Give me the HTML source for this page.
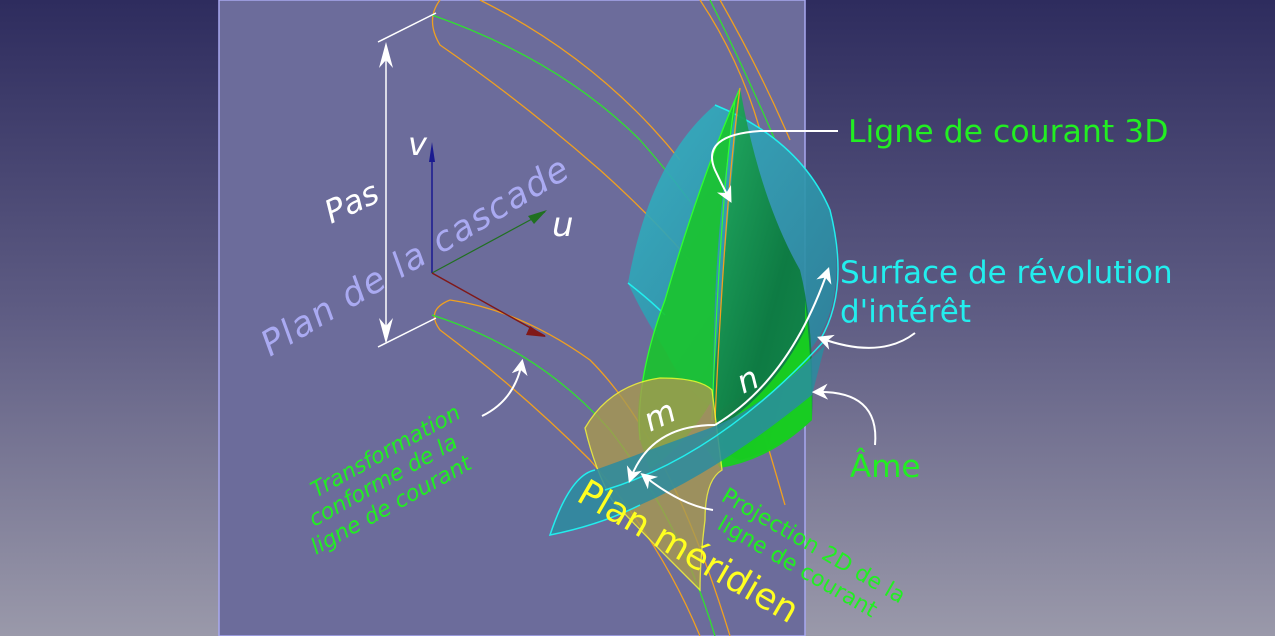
<!DOCTYPE html>
<html><head><meta charset="utf-8"><style>
html,body{margin:0;padding:0;width:1275px;height:636px;overflow:hidden}
svg{display:block}
text{font-family:"DejaVu Sans","Liberation Sans",sans-serif}
</style></head><body>
<svg width="1275" height="636" viewBox="0 0 1275 636" xmlns="http://www.w3.org/2000/svg">
<defs>
<linearGradient id="bg" x1="0" y1="0" x2="0" y2="1">
<stop offset="0" stop-color="#2e2c5e"/><stop offset="0.5" stop-color="#5f5d84"/><stop offset="1" stop-color="#9a99aa"/>
</linearGradient>
<linearGradient id="cy" x1="0" y1="0" x2="1" y2="1">
<stop offset="0" stop-color="#33b4c4"/><stop offset="1" stop-color="#2a7e98"/>
</linearGradient>
<linearGradient id="gr" x1="0" y1="0" x2="1" y2="1">
<stop offset="0" stop-color="#22b060"/><stop offset="0.6" stop-color="#0c7a3e"/><stop offset="1" stop-color="#138a4a"/>
</linearGradient>
<marker id="ah" viewBox="0 0 10 10" refX="8" refY="5" markerWidth="8" markerHeight="8" orient="auto-start-reverse"><path d="M0,0 L10,5 L0,10 L3,5z" fill="#fff"/></marker>
</defs>
<rect width="1275" height="636" fill="url(#bg)"/>
<rect x="219" y="0" width="586" height="636" fill="#6c6c9b" stroke="#a8a8f0" stroke-width="1.5"/>

<g fill="none" stroke-width="1.3">
<path d="M440,0 Q425,20 440,45 Q520,100 600,170 Q700,260 740,330" stroke="#f0a020"/>
<path d="M432,15 Q560,60 640,140 Q720,230 760,320" stroke="#30e030"/>
<path d="M480,0 Q600,60 680,160" stroke="#f0a020"/>
<path d="M450,300 Q425,310 440,330 Q520,390 590,460 Q660,540 700,636" stroke="#f0a020"/>
<path d="M432,315 Q540,350 610,430 Q680,520 715,636" stroke="#30e030"/>
<path d="M450,300 Q520,310 590,360 Q670,440 730,636" stroke="#f0a020"/>
<path d="M700,0 Q740,60 760,130" stroke="#f0a020"/>
<path d="M710,0 Q745,70 775,140" stroke="#30e030"/>
<path d="M720,0 Q760,70 790,140" stroke="#f0a020"/>
<path d="M760,420 Q775,470 785,505" stroke="#f0a020"/>
</g>

<path d="M715,105 Q800,140 830,210 Q850,300 810,350 L720,410 Q690,400 665,350 Q640,310 628,283 Q650,160 715,105z" fill="url(#cy)" opacity="0.92"/>
<path d="M715,105 Q800,140 830,210 Q850,290 820,340" fill="none" stroke="#22eeee" stroke-width="1.5"/>
<path d="M628,283 Q650,300 665,315" fill="none" stroke="#22eeee" stroke-width="1.5"/>
<path d="M740,88 Q720,180 715,300 L712,400 Q690,440 650,470 L640,440 Q630,400 665,300 Q700,180 740,88z" fill="#19c42c" opacity="0.9"/>
<path d="M740,88 Q760,200 800,270 Q815,330 812,420 Q780,450 740,460 Q715,455 712,400 Q725,250 740,88z" fill="url(#gr)" opacity="0.95"/>
<path d="M805,300 Q812,360 812,420 Q770,460 720,468 L700,440 Q770,400 805,330z" fill="#18d020" opacity="0.95"/>
<path d="M740,88 Q700,180 665,300 Q635,380 640,440" fill="none" stroke="#30ff30" stroke-width="1.3"/>
<path d="M740,88 Q725,200 715,420" fill="none" stroke="#f0a020" stroke-width="1.3"/>
<path d="M735,100 Q720,200 712,420" fill="none" stroke="#30ff30" stroke-width="1.2"/>
<path d="M585,428 Q610,385 660,378 Q700,378 712,390 L722,470 Q705,480 705,520 Q700,560 700,590 L670,560 Q630,520 612,500 Q595,470 585,428z" fill="#a89a50" opacity="0.8" stroke="#ffff30" stroke-width="1.3"/>
<path d="M595,470 Q570,475 550,535 Q600,525 640,505 Q720,470 812,395 L825,345 Q760,410 710,428 Q650,450 595,470z" fill="#2a8ca0" opacity="0.85"/>
<path d="M595,470 Q570,475 550,535 Q600,525 640,505" fill="none" stroke="#22eeee" stroke-width="1.5"/>
<path d="M605,490 Q720,455 825,340" fill="none" stroke="#22eeee" stroke-width="1.5"/>

<line x1="432" y1="273" x2="432" y2="150" stroke="#1a1a90" stroke-width="1.5"/>
<path d="M429,162 L432,142 L435,162z" fill="#1a1a90"/>
<line x1="432" y1="273" x2="545" y2="212" stroke="#207020" stroke-width="1.2"/>
<path d="M528,216 L547,210 L534,224z" fill="#207020"/>
<line x1="432" y1="273" x2="545" y2="336" stroke="#801818" stroke-width="1.5"/>
<path d="M530,326 L546,337 L526,335z" fill="#801818"/>

<g stroke="#fff" stroke-width="1.5" fill="none">
<line x1="378" y1="42" x2="436" y2="13"/>
<line x1="378" y1="347" x2="436" y2="318"/>
<line x1="386" y1="47" x2="386" y2="340"/>
</g>
<path d="M379,68 L386,42 L393,68 L386,60z" fill="#fff"/>
<path d="M379,318 L386,344 L393,318 L386,326z" fill="#fff"/>

<g fill="none" stroke="#fff" stroke-width="2" marker-end="url(#ah)">
<path d="M838,131 L760,131 Q700,135 715,170 Q722,185 730,200"/>
<path d="M915,333 Q880,360 820,338"/>
<path d="M875,445 Q880,390 815,392"/>
<path d="M713,510 Q680,505 643,475"/>
<path d="M482,416 Q515,400 522,362"/>
<path d="M715,425 Q790,380 828,270"/>
<path d="M715,425 Q650,425 630,480"/>
</g>

<text x="848" y="142" font-size="31.5" fill="#22ee22">Ligne de courant 3D</text>
<text x="840" y="283" font-size="31" fill="#22eeee">Surface de révolution</text>
<text x="840" y="322" font-size="31" fill="#22eeee">d'intérêt</text>
<text x="850" y="477" font-size="31" fill="#22ee22">Âme</text>
<text x="408" y="155" font-size="32" fill="#fff" font-style="italic">v</text>
<text x="552" y="236" font-size="34" fill="#fff" font-style="italic">u</text>
<text transform="translate(331,224) rotate(-25)" font-size="32" fill="#fff" font-style="italic">Pas</text>
<text transform="translate(270,357) rotate(-31)" font-size="35" fill="#aaaaf2" font-style="italic" letter-spacing="1.5">Plan de la cascade</text>
<text transform="translate(743,394) rotate(-25)" font-size="32" fill="#fff" font-style="italic">n</text>
<text transform="translate(650,432) rotate(-25)" font-size="32" fill="#fff" font-style="italic">m</text>
<g font-size="22" fill="#22ee22" font-style="italic">
<text transform="translate(316,498) rotate(-29)">Transformation</text>
<text transform="translate(314,527) rotate(-29)">conforme de la</text>
<text transform="translate(316,555) rotate(-29)">ligne de courant</text>
</g>
<text transform="translate(575,500) rotate(30)" font-size="36" fill="#ffff20">Plan méridien</text>
<g font-size="22" fill="#22ee22">
<text transform="translate(720,500) rotate(30)">Projection 2D de la</text>
<text transform="translate(716,528) rotate(30)">ligne de courant</text>
</g>
</svg>
</body></html>
